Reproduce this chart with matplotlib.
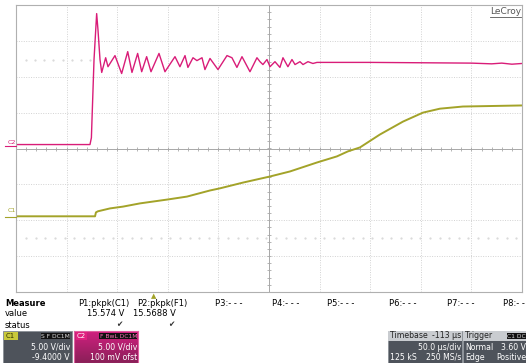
import numpy as np
import matplotlib
matplotlib.use("Agg")
import matplotlib.pyplot as plt
from matplotlib.patches import Rectangle

# Scope traces: time in us, level in divisions (0 = centre line)
c2_t = [0, 73.1, 74.5, 75.1, 77.1, 79.7, 81.0, 83.0, 84.7, 88.6, 90.9, 97.8, 104.4,
        110.4, 114.6, 120.2, 124.2, 129.1, 133.4, 141.3, 147.2, 157.1, 162.0, 167.0,
        169.9, 174.9, 178.8, 183.8, 186.7, 191.7, 199.6, 208.5, 213.4, 218.3, 223.3,
        231.2, 238.1, 241.1, 244.0, 248.0, 251.0, 255.9, 260.8, 263.8, 268.7, 272.7,
        275.7, 280.6, 283.6, 288.5, 293.4, 297.4, 350, 400, 450, 470, 480, 490, 500]
c2_div = [0.11, 0.11, 0.30, 0.81, 2.48, 3.76, 3.31, 2.48, 2.12, 2.53, 2.28, 2.59, 2.09,
          2.70, 2.12, 2.65, 2.14, 2.56, 2.14, 2.65, 2.14, 2.56, 2.28, 2.59,
          2.26, 2.53, 2.45, 2.53, 2.20, 2.51, 2.20, 2.59, 2.53, 2.26, 2.56,
          2.14, 2.53, 2.42, 2.34, 2.48, 2.28, 2.42, 2.26, 2.53, 2.28, 2.48,
          2.34, 2.42, 2.34, 2.42, 2.37, 2.40, 2.40, 2.39, 2.38, 2.36, 2.38, 2.35, 2.37]

c1_t = [0, 78.1, 79.0, 81.0, 92.9, 105.7, 122.5, 150.2, 169.0, 191.7, 201.6, 224.3,
        251.0, 270.7, 297.4, 317.1, 328.0, 339.9, 359.6, 382.4, 402.1, 418.9, 441.6, 500]
c1_div = [-1.89, -1.89, -1.78, -1.75, -1.67, -1.62, -1.53, -1.42, -1.34, -1.17, -1.11, -0.95,
          -0.78, -0.64, -0.39, -0.22, -0.08, 0.03, 0.39, 0.75, 1.00, 1.11, 1.17, 1.20]

measure_names = ["P1:pkpk(C1)", "P2:pkpk(F1)", "P3:- - -", "P4:- - -",
                 "P5:- - -", "P6:- - -", "P7:- - -", "P8:- - -"]
measure_values = ["15.574 V", "15.5688 V"]

W, H = 526, 363
C1_COL = "#a3a329"
C2_COL = "#d91c78"


def fx(x):
    return x / W


def fy(y):
    return 1 - y / H


fig = plt.figure(figsize=(W / 100, H / 100), dpi=100)
fig.patch.set_facecolor("white")
ax = fig.add_axes([fx(16), fy(292), 506 / W, 287 / H])
ax.set_xlim(0, 500)
ax.set_ylim(-4, 4)
ax.set_xticks(np.arange(0, 501, 50))
ax.set_yticks(np.arange(-4, 5, 1))
ax.grid(True, color="#d2d2d2", linestyle=(0, (1, 1.5)), linewidth=0.7)
ax.tick_params(length=0, labelbottom=False, labelleft=False)
for s in ax.spines.values():
    s.set_color("#b0b0b0")
    s.set_linewidth(0.8)

# centre cross with small ticks
ax.axvline(250, color="#a8a8a8", lw=0.7)
ax.axhline(0, color="#a8a8a8", lw=0.7)
ax.plot(np.arange(0, 501, 10), np.zeros(51), ls="none", marker="|", ms=3,
        color="#a8a8a8", mew=0.6)
ax.plot(np.full(41, 250), np.arange(-4, 4.01, 0.2), ls="none", marker="_", ms=3,
        color="#a8a8a8", mew=0.6)

# faint dotted level markers
ax.plot(np.arange(10, 74, 9), np.full(8, 2.47), ls="none", marker="s", ms=0.6, color="#dadada")
ax.plot(np.arange(10, 500, 9.5), np.full(52, -2.49), ls="none", marker="s", ms=0.6, color="#dadada")

ax.plot(c2_t, c2_div, color=C2_COL, lw=1.0, solid_joinstyle="round")
ax.plot(c1_t, c1_div, color=C1_COL, lw=1.4)

# channel markers on the left
fig.text(fx(8), fy(143), "C2", color=C2_COL, fontsize=4.5, va="center")
fig.add_artist(plt.Line2D([fx(5), fx(16)], [fy(146), fy(146)], color=C2_COL, lw=0.8))
fig.text(fx(8), fy(211), "C1", color=C1_COL, fontsize=4.5, va="center")
fig.add_artist(plt.Line2D([fx(5), fx(16)], [fy(217), fy(217)], color=C1_COL, lw=0.8))

fig.text(fx(521), fy(12), "LeCroy", color="#555555", fontsize=6.5, ha="right", va="center")
fig.add_artist(plt.Line2D([fx(490), fx(521)], [fy(17), fy(17)], color="#555555", lw=0.6))

# trigger marker
fig.text(fx(154), fy(296), "\u25b2", color=C1_COL, fontsize=5, ha="center", va="center")

# measurement table
fs = 6.0
fig.text(fx(5), fy(303), "Measure", fontsize=fs, fontweight="bold", va="center")
fig.text(fx(5), fy(314), "value", fontsize=fs, va="center")
fig.text(fx(5), fy(325), "status", fontsize=fs, va="center")
name_x = [78, 137, 215, 272, 327, 389, 447, 503]
for name, x in zip(measure_names, name_x):
    fig.text(fx(x), fy(303), name, fontsize=fs, va="center")
for val, x in zip(measure_values, [124, 176]):
    fig.text(fx(x), fy(314), val, fontsize=fs, va="center", ha="right")
    fig.text(fx(x - 5), fy(325), "\u2714", fontsize=5.5, va="center", ha="center", color="#333333")

# channel boxes
bs = 5.6
fig.add_artist(Rectangle((fx(3), fy(363)), 69 / W, 32 / H, transform=fig.transFigure,
                         facecolor="#4e535b", edgecolor="#8a8f96", lw=0.6))
fig.add_artist(Rectangle((fx(4), fy(340)), 14 / W, 8 / H, transform=fig.transFigure,
                         facecolor="#c8c83a", edgecolor="none"))
fig.text(fx(6), fy(336), "C1", fontsize=5, color="#333300", va="center")
fig.text(fx(70), fy(336), "S F DC1M", fontsize=4.3, color="#dddddd", va="center", ha="right",
         bbox=dict(facecolor="#111111", edgecolor="none", pad=0.3))
fig.text(fx(70), fy(347), "5.00 V/div", fontsize=bs, color="white", va="center", ha="right")
fig.text(fx(70), fy(357), "-9.4000 V", fontsize=bs, color="white", va="center", ha="right")

gax = fig.add_axes([fx(74), fy(363), 64 / W, 32 / H])
grad = np.linspace(0, 1, 50).reshape(-1, 1)
gax.imshow(grad, aspect="auto", cmap=matplotlib.colors.LinearSegmentedColormap.from_list(
    "g", ["#d0207f", "#8a1f58"]), extent=[0, 1, 0, 1])
gax.set_xticks([])
gax.set_yticks([])
for s in gax.spines.values():
    s.set_color("#e060a0")
fig.text(fx(77), fy(336), "C2", fontsize=5, color="white", va="center",
         bbox=dict(facecolor="#e0207f", edgecolor="none", pad=0.4))
fig.text(fx(137), fy(336), "F BwL DC1M", fontsize=4.3, color="#ff70b8", va="center", ha="right",
         bbox=dict(facecolor="#111111", edgecolor="none", pad=0.3))
fig.text(fx(137), fy(347), "5.00 V/div", fontsize=bs, color="white", va="center", ha="right")
fig.text(fx(137), fy(357), "100 mV ofst", fontsize=bs, color="white", va="center", ha="right")

# timebase / trigger boxes
for x0, w in [(388, 74), (463, 63)]:
    fig.add_artist(Rectangle((fx(x0), fy(363)), w / W, 32 / H, transform=fig.transFigure,
                             facecolor="#4e535b", edgecolor="#8a8f96", lw=0.6))
    fig.add_artist(Rectangle((fx(x0), fy(341)), w / W, 10 / H, transform=fig.transFigure,
                             facecolor="#c9ccd0", edgecolor="none"))
fig.text(fx(390), fy(336), "Timebase", fontsize=bs, color="#222222", va="center")
fig.text(fx(461), fy(336), "-113 \u00b5s", fontsize=bs, color="#222222", va="center", ha="right")
fig.text(fx(461), fy(347), "50.0 \u00b5s/div", fontsize=bs, color="white", va="center", ha="right")
fig.text(fx(390), fy(357), "125 kS", fontsize=bs, color="white", va="center")
fig.text(fx(461), fy(357), "250 MS/s", fontsize=bs, color="white", va="center", ha="right")
fig.text(fx(465), fy(336), "Trigger", fontsize=bs, color="#222222", va="center")
fig.text(fx(526), fy(336), "C1 DC", fontsize=4.3, color="#dddddd", va="center", ha="right",
         bbox=dict(facecolor="#111111", edgecolor="none", pad=0.3))
fig.text(fx(465), fy(347), "Normal", fontsize=bs, color="white", va="center")
fig.text(fx(526), fy(347), "3.60 V", fontsize=bs, color="white", va="center", ha="right")
fig.text(fx(465), fy(357), "Edge", fontsize=bs, color="white", va="center")
fig.text(fx(526), fy(357), "Positive", fontsize=bs, color="white", va="center", ha="right")

fig.savefig("out.png", dpi=100)
